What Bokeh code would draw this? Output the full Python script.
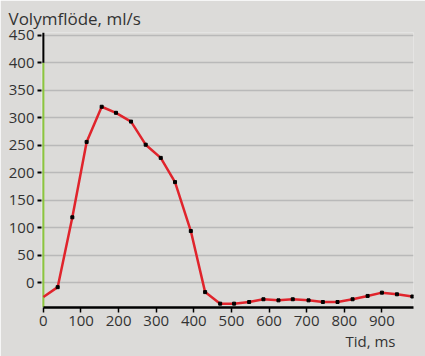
from bokeh.plotting import figure
from bokeh.models import Range1d, FixedTicker, Title
from bokeh.embed import file_html
from bokeh.resources import INLINE

# Data
time_ms = [0, 38, 77, 115, 155, 193, 233, 272, 312, 350, 392, 430, 470,
           507, 547, 585, 625, 663, 705, 743, 782, 822, 862, 900, 940, 981]
flow_mls = [-26, -8, 119, 256, 320, 309, 293, 251, 227, 183, 94, -17, -38,
            -38, -35, -30, -32, -30, -32, -35, -35, -30, -24, -18, -21, -25]
x_ticks = [0, 100, 200, 300, 400, 500, 600, 700, 800, 900]
y_ticks = [0, 50, 100, 150, 200, 250, 300, 350, 400, 450]
y_title = "Volymflöde, ml/s"
x_title = "Tid, ms"

BG = "#dcdbd9"
FONT = "Open Sans"
TXT = "#333333"

p = figure(width=425, height=356, output_backend="svg", toolbar_location=None,
           x_range=Range1d(-5, 984), y_range=Range1d(-45, 455),
           min_border_left=41, min_border_right=12, min_border_top=32,
           min_border_bottom=49)
p.background_fill_color = BG
p.border_fill_color = BG
p.outline_line_color = None
p.xgrid.grid_line_color = None
p.ygrid.grid_line_color = "#b9b9b9"
p.ygrid.grid_line_width = 1.5
p.ygrid.ticker = FixedTicker(ticks=y_ticks)

# Title (y quantity) top-left
p.title.text = y_title
p.title.align = "left"
p.title.offset = -33
p.title.text_font = FONT
p.title.text_font_size = "17px"
p.title.text_font_style = "normal"
p.title.text_color = TXT
p.title.standoff = 5

# X quantity label bottom-right
p.add_layout(Title(text=x_title, align="right", offset=18, text_font=FONT,
                   text_font_size="15px", text_font_style="normal",
                   text_color=TXT, standoff=0, text_line_height=1.0), "below")

# Y axis
p.yaxis.ticker = FixedTicker(ticks=y_ticks)
p.yaxis.axis_line_color = None
p.yaxis.major_tick_line_color = "black"
p.yaxis.major_tick_line_width = 2
p.yaxis.major_tick_out = 4
p.yaxis.major_tick_in = 0
p.yaxis.minor_tick_line_color = None
p.yaxis.major_label_text_font = FONT
p.yaxis.major_label_text_font_size = "15px"
p.yaxis.major_label_text_color = TXT
p.yaxis.major_label_standoff = 3

# X axis
p.xaxis.ticker = FixedTicker(ticks=x_ticks)
p.xaxis.bounds = (0, 984)
p.xaxis.axis_line_color = "black"
p.xaxis.axis_line_width = 2.5
p.xaxis.major_tick_line_color = "black"
p.xaxis.major_tick_line_width = 1.5
p.xaxis.major_tick_out = 5
p.xaxis.major_tick_in = 0
p.xaxis.minor_tick_line_color = None
p.xaxis.major_label_text_font = FONT
p.xaxis.major_label_text_font_size = "15px"
p.xaxis.major_label_text_color = TXT
p.xaxis.major_label_standoff = 3

# Y axis line: green lower part, black top part
p.segment(x0=[0], y0=[-45], x1=[0], y1=[400], line_color="#8cc63e", line_width=2)
p.segment(x0=[0], y0=[400], x1=[0], y1=[455], line_color="black", line_width=2)

# Data line
p.line(time_ms, flow_mls, line_color="#e0242c", line_width=2.5)
p.scatter(time_ms[1:], flow_mls[1:], marker="square", size=3,
          fill_color="black", line_color="black")

open("out.html", "w").write(file_html(p, INLINE))
